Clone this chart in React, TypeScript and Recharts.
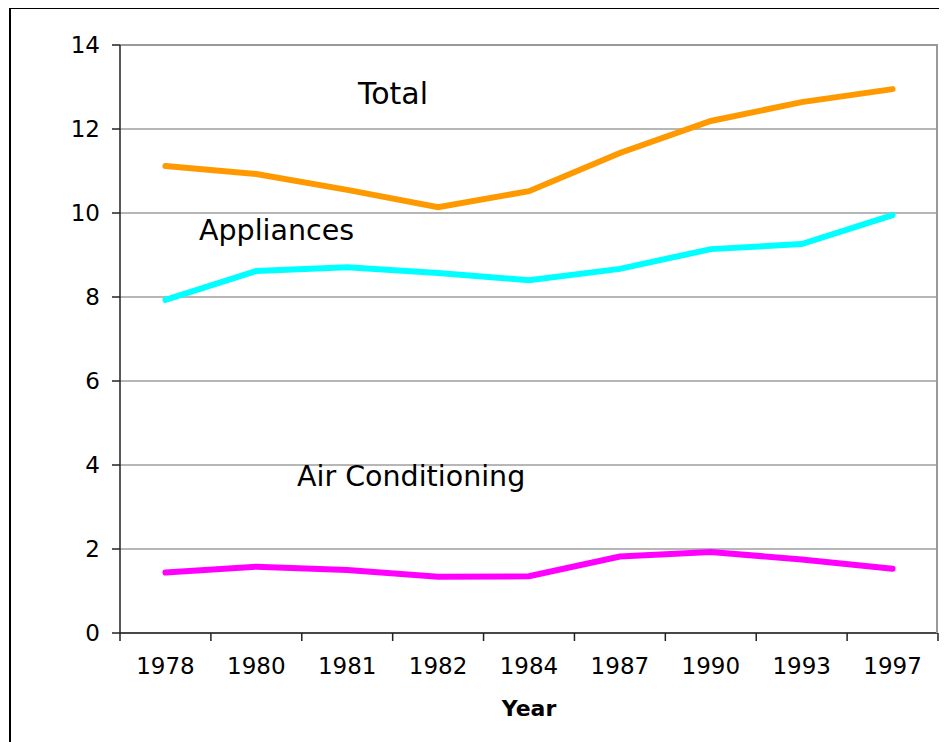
import {
  LineChart,
  Line,
  XAxis,
  YAxis,
  CartesianGrid,
  ReferenceLine,
} from "recharts";

const years = ["1978", "1980", "1981", "1982", "1984", "1987", "1990", "1993", "1997"];
const total = [11.12, 10.93, 10.55, 10.14, 10.52, 11.43, 12.19, 12.64, 12.95];
const appliances = [7.93, 8.62, 8.71, 8.57, 8.4, 8.67, 9.14, 9.26, 9.95];
const airConditioning = [1.44, 1.58, 1.5, 1.34, 1.35, 1.82, 1.93, 1.75, 1.53];
const yTicks = [0, 2, 4, 6, 8, 10, 12, 14];

const data = years.map((year, i) => ({
  year,
  total: total[i],
  appliances: appliances[i],
  air: airConditioning[i],
}));

const FONT = "'DejaVu Sans', Verdana, sans-serif";
const AXIS = "#222";
const GRID = "#6e6e6e";
const FRAME = "#999";

// label centred in the band, tick marks on the band edges (Excel style)
const YearTick = (props: any) => {
  const { x, y, payload, index, visibleTicksCount, width } = props;
  const half = width / visibleTicksCount / 2;
  return (
    <g>
      <line x1={x - half} x2={x - half} y1={y} y2={y + 8} stroke={AXIS} strokeWidth={1.5} />
      {index === visibleTicksCount - 1 && (
        <g>
          {/* right side of the plot frame */}
          <line x1={x + half - 1} x2={x + half - 1} y1={y} y2={y - 588} stroke={FRAME} strokeWidth={2} />
          <line x1={x + half} x2={x + half} y1={y} y2={y + 8} stroke={AXIS} strokeWidth={1.5} />
        </g>
      )}
      <text
        x={x}
        y={y + 25}
        dy="0.71em"
        textAnchor="middle"
        fontSize={23}
        fontFamily={FONT}
        fill="#000"
      >
        {payload.value}
      </text>
    </g>
  );
};

export default function App() {
  return (
    <div style={{ position: "relative", width: 939, height: 734, fontFamily: FONT }}>
      {/* outer frame, only top and left show in the picture */}
      <div
        style={{
          position: "absolute",
          left: 1,
          top: -1,
          right: 0,
          bottom: 0,
          borderTop: "2px solid #000",
          borderLeft: "2px solid #000",
        }}
      />
      <div style={{ position: "absolute", left: 0, top: 0 }}>
        <LineChart
          width={939}
          height={734}
          data={data}
          margin={{ top: 37, right: 9, left: 0, bottom: 49 }}
        >
          <CartesianGrid vertical={false} stroke={GRID} strokeWidth={1} />
          <XAxis
            dataKey="year"
            scale="band"
            height={60}
            axisLine={{ stroke: AXIS, strokeWidth: 1.5 }}
            tickLine={false}
            tickSize={0}
            tickMargin={0}
            interval={0}
            tick={<YearTick />}
          />
          <YAxis
            width={112}
            domain={[0, 14]}
            ticks={yTicks}
            tickSize={8}
            tickMargin={12}
            axisLine={{ stroke: AXIS, strokeWidth: 1.5 }}
            tickLine={{ stroke: AXIS, strokeWidth: 1.5 }}
            tick={{ fill: "#000", fontSize: 23, fontFamily: FONT }}
          />
          <ReferenceLine y={14} stroke={FRAME} strokeWidth={2} />
          <Line
            type="linear"
            dataKey="total"
            stroke="#FF9900"
            strokeWidth={6}
            strokeLinecap="round"
            dot={false}
            isAnimationActive={false}
          />
          <Line
            type="linear"
            dataKey="appliances"
            stroke="#00FFFF"
            strokeWidth={6}
            strokeLinecap="round"
            dot={false}
            isAnimationActive={false}
          />
          <Line
            type="linear"
            dataKey="air"
            stroke="#FF00FF"
            strokeWidth={6}
            strokeLinecap="round"
            dot={false}
            isAnimationActive={false}
          />
        </LineChart>
      </div>
      <svg
        width={939}
        height={734}
        style={{ position: "absolute", left: 0, top: 0, pointerEvents: "none" }}
      >
        <text x={350} y={96} fontSize={30} fontFamily={FONT} fill="#000">
          Total
        </text>
        <text x={191} y={232} fontSize={28.5} fontFamily={FONT} fill="#000">
          Appliances
        </text>
        <text x={289} y={478} fontSize={28.5} fontFamily={FONT} fill="#000">
          Air Conditioning
        </text>
        <text
          x={521}
          y={708}
          fontSize={22}
          fontWeight="bold"
          fontFamily={FONT}
          fill="#000"
          textAnchor="middle"
        >
          Year
        </text>
      </svg>
    </div>
  );
}
